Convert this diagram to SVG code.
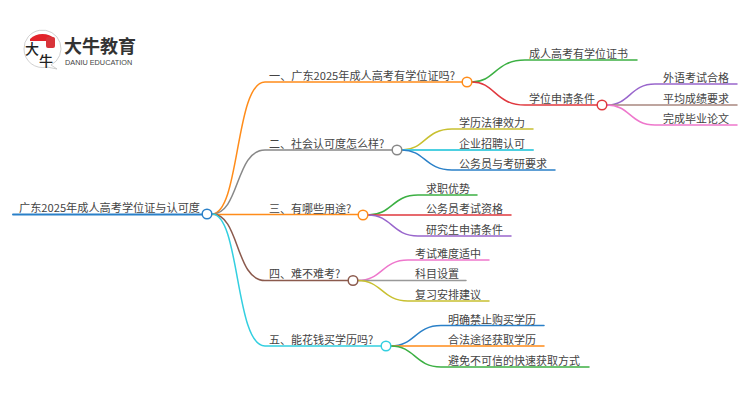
<svg xmlns="http://www.w3.org/2000/svg" width="750" height="410" viewBox="0 0 750 410">
<style>
text{font-family:"Noto Sans CJK SC","Liberation Sans",sans-serif;font-size:11px;fill:#444}
.c path{fill:none;stroke-width:1.5;stroke-linecap:round}
circle{fill:#fff;stroke-width:1.500}
</style>
<rect width="750" height="410" fill="#fff"/>
<g id="logo">
<path d="M24 49a18.500 18.500 0 1 1 27 16l6 4-10-2a18.500 18.500 0 0 1-23-18z" fill="#fff" stroke="#bbb" stroke-width=".7"/>
<path d="M30 39a18 18 0 0 1 25 0l0 2-25 0z" fill="#e2232a"/>
<rect x="46" y="37" width="9" height="11" rx="2" fill="#d8343a"/>
<text x="25" y="54" style="font-size:14px;font-weight:500;fill:#222">大</text>
<text x="39" y="66" style="font-size:14px;font-weight:500;fill:#222">牛</text>
<text x="64" y="53" style="font-size:18px;font-weight:700;fill:#333">大牛教育</text>
<text x="65" y="64.500" style="font-family:'Liberation Sans',sans-serif;font-size:7.300px;fill:#444">DANIU EDUCATION</text>
</g>
<g class="c" id="connectors">
<path d="M13 214.500H207" stroke="#2a80c8" style="stroke-width:2"/>
<path d="M212 214C240 214 235 82 265 82H462" stroke="#ff8c1a"/>
<path d="M212 214C240 214 235 150 265 150H392" stroke="#888"/>
<path d="M212 214.500H358" stroke="#ff8c1a"/>
<path d="M212 214C240 214 235 280.500 265 280.500H348" stroke="#8b5a4d"/>
<path d="M212 214C240 214 235 346 265 346H381" stroke="#33cfe0"/>
<path d="M472 82C495 82 495 60 525 60H637" stroke="#3cb043"/>
<path d="M472 82C495 82 495 105 525 105H597" stroke="#e0383e"/>
<path d="M607 105C630 105 630 84 655 84H737" stroke="#9966cc"/>
<path d="M607 105H737" stroke="#a98880"/>
<path d="M607 105C630 105 630 125 655 125H737" stroke="#ee77cc"/>
<path d="M402 150C425 150 425 129 452 129H533" stroke="#c8c030"/>
<path d="M402 150H533" stroke="#4dd0e1" style="stroke-width:2"/>
<path d="M402 150C425 150 425 170 452 170H555" stroke="#2a80c8"/>
<path d="M368 215C392 215 392 195 418 195H477" stroke="#3cb043"/>
<path d="M368 215H511" stroke="#e0383e"/>
<path d="M368 215C392 215 392 236 418 236H511" stroke="#9966cc"/>
<path d="M358 280.500C382 280.500 382 260 408 260H489" stroke="#ee77cc"/>
<path d="M358 280.500H466" stroke="#999"/>
<path d="M358 280.500C382 280.500 382 301 408 301H489" stroke="#c8c030"/>
<path d="M391 346C415 346 415 325.500 441 325.500H544" stroke="#2a80c8"/>
<path d="M391 346H544" stroke="#ff8c1a"/>
<path d="M391 346C415 346 415 367 441 367H589" stroke="#3cb043"/>
</g>
<g id="root"><circle cx="207" cy="214" r="4.800" stroke="#2a80c8"/><text x="19" y="212" textLength="181" lengthAdjust="spacingAndGlyphs" style="font-size:11px">广东2025年成人高考学位证与认可度</text></g>
<g id="n1"><circle cx="467" cy="82" r="4.800" stroke="#ff8c1a"/><text x="269" y="80" textLength="186" lengthAdjust="spacingAndGlyphs">一、广东2025年成人高考有学位证吗?</text></g>
<g id="n2"><circle cx="397" cy="150" r="4.800" stroke="#888"/><text x="269" y="148">二、社会认可度怎么样?</text></g>
<g id="n3"><circle cx="363" cy="215" r="4.800" stroke="#ff8c1a"/><text x="269" y="213">三、有哪些用途?</text></g>
<g id="n4"><circle cx="353" cy="280.500" r="4.800" stroke="#8b5a4d"/><text x="269" y="278">四、难不难考?</text></g>
<g id="n5"><circle cx="386" cy="346" r="4.800" stroke="#33cfe0"/><text x="269" y="344">五、能花钱买学历吗?</text></g>
<g id="n1a"><text x="529" y="58">成人高考有学位证书</text></g>
<g id="n1b"><circle cx="602" cy="105" r="4.800" stroke="#e0383e"/><text x="529" y="103">学位申请条件</text></g>
<g id="n1b1"><text x="663" y="82">外语考试合格</text></g>
<g id="n1b2"><text x="663" y="103">平均成绩要求</text></g>
<g id="n1b3"><text x="663" y="123">完成毕业论文</text></g>
<g id="n2a"><text x="459" y="127">学历法律效力</text></g>
<g id="n2b"><text x="459" y="148">企业招聘认可</text></g>
<g id="n2c"><text x="459" y="168">公务员与考研要求</text></g>
<g id="n3a"><text x="426" y="193">求职优势</text></g>
<g id="n3b"><text x="426" y="213">公务员考试资格</text></g>
<g id="n3c"><text x="426" y="234">研究生申请条件</text></g>
<g id="n4a"><text x="415" y="258">考试难度适中</text></g>
<g id="n4b"><text x="415" y="278">科目设置</text></g>
<g id="n4c"><text x="415" y="299">复习安排建议</text></g>
<g id="n5a"><text x="448" y="324">明确禁止购买学历</text></g>
<g id="n5b"><text x="448" y="344">合法途径获取学历</text></g>
<g id="n5c"><text x="448" y="365">避免不可信的快速获取方式</text></g>
</svg>
